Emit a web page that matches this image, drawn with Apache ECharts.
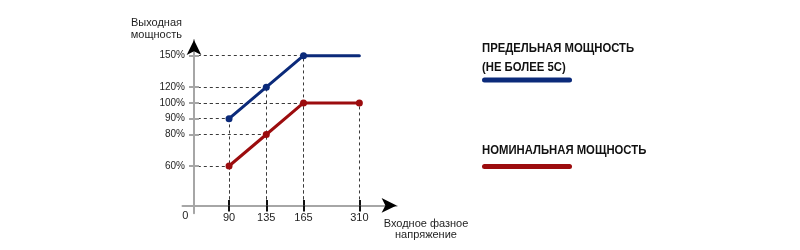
<!DOCTYPE html>
<html>
<head>
<meta charset="utf-8">
<style>html,body{margin:0;padding:0;background:#fff}#c{width:800px;height:250px}</style>
<script src="https://cdn.jsdelivr.net/npm/echarts@6/dist/echarts.min.js"></script>
</head>
<body>
<div id="c"></div>
<script>
// ---- data ----
const voltage = [90, 135, 165, 310];
const limitPower = [90, 120, 150, 150];
const nominalPower = [60, 80, 100, 100];
const limitMarkers = 3; // the limit curve carries dots on its first three points
const seriesNames = ['ПРЕДЕЛЬНАЯ МОЩНОСТЬ\n(НЕ БОЛЕЕ 5С)', 'НОМИНАЛЬНАЯ МОЩНОСТЬ'];
const xName = 'Входное фазное\nнапряжение';
const yName = 'Выходная\nмощность';
// schematic (non-proportional) axes: tick labels on evenly spaced slots
const xCategories = ['', '0', '', '', '', '90', '', '', '', '135', '', '', '', '165', '', '', '', '', '', '310', '', '', '', ''];
const yCategories = ['', '0', '', '', '', '', '60%', '', '', '', '80%', '', '90%', '', '100%', '', '120%', '', '', '', '150%', '', ''];

// ---- helpers ----
const xi = v => xCategories.indexOf(String(v));
const yi = v => yCategories.indexOf(v + '%');
const x0 = xCategories.indexOf('0');
const y0 = yCategories.indexOf('0');

const FONT = '"Liberation Sans", Arial, sans-serif';
const BOLDFONT = 'bold 13px "Liberation Sans", Arial, sans-serif';
const BLUE = '#0b2a7a';
const RED = '#9c0c0e';
const GRAY = '#a6a6a6';
const TXT = '#1e1e1e';

const limitData = voltage.map((v, i) => ({ value: [xi(v), yi(limitPower[i])], symbol: i < limitMarkers ? 'circle' : 'none' }));
const nominalData = voltage.map((v, i) => ({ value: [xi(v), yi(nominalPower[i])] }));

const guides = [];
function addGuide(xv, yv) {
  guides.push({ coords: [[xi(xv), y0], [xi(xv), yi(yv)]] });
  guides.push({ coords: [[x0, yi(yv)], [xi(xv), yi(yv)]] });
}
voltage.forEach((v, i) => { if (i < limitMarkers) addGuide(v, limitPower[i]); });
voltage.forEach((v, i) => addGuide(v, nominalPower[i]));

const shown = (i, v) => v !== '';
const ticked = (i, v) => v !== '' && v !== '0';

const chart = echarts.init(document.getElementById('c'), null, { renderer: 'canvas' });
chart.setOption({
  animation: false,
  backgroundColor: '#fff',
  grid: { left: 182.5, top: 39.9, width: 214.1, height: 173.4, outerBoundsMode: 'none', containLabel: false },
  xAxis: [{
    type: 'category', data: xCategories, boundaryGap: false, position: 'bottom', offset: -7.88, z: 3,
    axisLine: { onZero: false, lineStyle: { color: GRAY, width: 2 } },
    axisTick: { show: true, interval: ticked, length: 6, lineStyle: { color: '#111', width: 2 } },
    axisLabel: {
      interval: shown, margin: 7, fontSize: 11, color: TXT, fontFamily: FONT,
      formatter: v => v === '0' ? '{o|0}' : v,
      rich: { o: { fontSize: 11, color: TXT, fontFamily: FONT, lineHeight: 7, padding: [0, 13, 0, 0] } }
    },
    splitLine: { show: false },
    name: xName, nameLocation: 'end', nameGap: 29.4,
    nameTextStyle: { fontSize: 11, color: TXT, fontFamily: FONT, align: 'center', verticalAlign: 'top', lineHeight: 10.5, padding: [13.5, 0, 0, 0] }
  }, {
    type: 'category', data: xCategories, boundaryGap: false, position: 'bottom', offset: -7.88, z: 4,
    axisLine: { onZero: false, symbol: ['none', 'arrow'], symbolSize: [11, 15], lineStyle: { color: '#000', width: 0 } },
    axisTick: { show: true, inside: true, interval: ticked, length: 5.5, lineStyle: { color: '#111', width: 2 } },
    axisLabel: { show: false }, splitLine: { show: false }
  }],
  yAxis: [{
    type: 'category', data: yCategories, boundaryGap: false, position: 'left', offset: -11.5, z: 3,
    axisLine: { onZero: false, lineStyle: { color: GRAY, width: 2 } },
    axisTick: { show: true, interval: ticked, length: 5, lineStyle: { color: GRAY, width: 2 } },
    axisLabel: { interval: ticked, margin: 9, fontSize: 10, color: TXT, fontFamily: FONT },
    splitLine: { show: false },
    name: yName, nameLocation: 'end', nameGap: -1.5,
    nameTextStyle: { fontSize: 11, color: TXT, fontFamily: FONT, align: 'right', lineHeight: 12, padding: [0, 12, 0, 0] }
  }, {
    type: 'category', data: yCategories, boundaryGap: false, position: 'left', offset: -11.5, z: 4,
    axisLine: { onZero: false, symbol: ['none', 'arrow'], symbolSize: [11, 15], lineStyle: { color: '#000', width: 0 } },
    axisTick: { show: true, inside: true, interval: ticked, length: 5, lineStyle: { color: GRAY, width: 2 } },
    axisLabel: { show: false }, splitLine: { show: false }
  }],
  series: [{
    type: 'lines', coordinateSystem: 'cartesian2d', xAxisIndex: 0, yAxisIndex: 0, z: 1, silent: true,
    lineStyle: { color: '#3a3a3a', width: 1, type: [3, 3], opacity: 1, curveness: 0 },
    data: guides
  }, {
    name: seriesNames[0], type: 'line', xAxisIndex: 0, yAxisIndex: 0, z: 5, silent: true,
    data: limitData, symbol: 'circle', symbolSize: 7,
    itemStyle: { color: BLUE },
    lineStyle: { color: BLUE, width: 3, cap: 'round', join: 'round' }
  }, {
    name: seriesNames[1], type: 'line', xAxisIndex: 0, yAxisIndex: 0, z: 5, silent: true,
    data: nominalData, symbol: 'circle', symbolSize: 7,
    itemStyle: { color: RED },
    lineStyle: { color: RED, width: 3, cap: 'round', join: 'round' }
  }],
  graphic: [
    { type: 'text', x: 482, y: 39, scaleX: 0.87, style: { text: seriesNames[0], font: BOLDFONT, fill: '#111', lineHeight: 18.7 } },
    { type: 'rect', shape: { x: 482, y: 77.5, width: 90, height: 5, r: 2.5 }, style: { fill: BLUE } },
    { type: 'text', x: 482, y: 141.5, scaleX: 0.87, style: { text: seriesNames[1], font: BOLDFONT, fill: '#111', lineHeight: 18.7 } },
    { type: 'rect', shape: { x: 482, y: 164, width: 90, height: 5, r: 2.5 }, style: { fill: RED } }
  ]
});
</script>
</body>
</html>
